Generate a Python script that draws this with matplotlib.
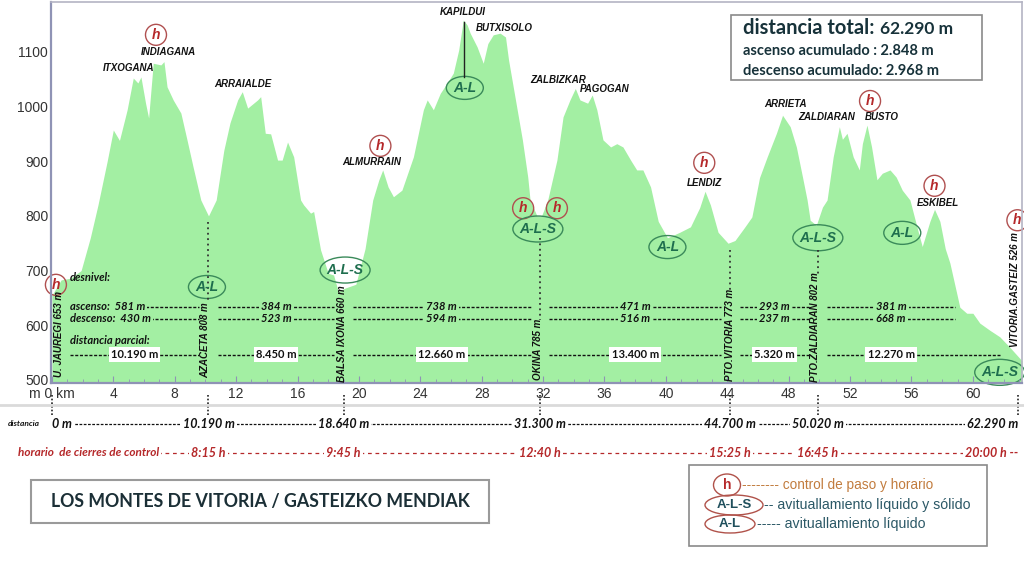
import numpy as np
import matplotlib.pyplot as plt
import matplotlib.transforms as mtransforms
from matplotlib.patches import Ellipse, Rectangle
from matplotlib.ticker import MultipleLocator, FixedLocator

# elevation profile (km, m)
profile_km = [0, 0.6, 1.2, 1.9, 2.5, 3.0, 3.3, 3.6, 4.0, 4.4,
              4.9, 5.3, 5.6, 5.8, 6.1, 6.3, 6.6, 7.1, 7.3, 7.5,
              7.9, 8.4, 8.8, 9.2, 9.7, 10.2, 10.7, 11.2, 11.6, 12.1,
              12.4, 12.75, 13.4, 13.6, 13.9, 14.25, 14.7, 15.0, 15.35, 15.75,
              16.2, 16.4, 16.85, 17.05, 17.5, 18.0, 18.35, 18.65, 19.1, 19.8,
              20.4, 20.9, 21.3, 21.55, 21.9, 22.25, 22.8, 23.55, 24.2, 24.45,
              24.85, 25.3, 25.75, 26.15, 26.5, 26.8, 27.05, 27.25, 27.7, 28.1,
              28.4, 28.75, 29.2, 29.55, 29.75, 30.2, 30.65, 31.0, 31.15, 31.6,
              31.9, 32.3, 32.9, 33.3, 33.75, 34.1, 34.4, 34.9, 35.2, 35.5,
              35.9, 36.4, 36.8, 37.2, 37.7, 38.1, 38.5, 39.0, 39.5, 40.1,
              40.9, 41.6, 42.2, 42.55, 42.9, 43.4, 44.05, 44.5, 45.15, 45.6,
              46.1, 46.6, 47.2, 47.6, 48.1, 48.5, 48.9, 49.2, 49.4, 49.8,
              50.2, 50.5, 50.9, 51.3, 51.5, 51.8, 52.2, 52.6, 52.8, 53.1,
              53.4, 53.75, 54.1, 54.6, 55.0, 55.4, 55.9, 56.4, 56.7, 57.2,
              57.5, 57.85, 58.2, 58.5, 59.15, 59.6, 60.0, 60.45, 61.1, 61.75,
              62.4, 63.2]
profile_elev = [655, 683, 686, 700, 760, 820, 860, 900, 957, 938,
                994, 1052, 1043, 1054, 1006, 979, 1079, 1076, 1082, 1036,
                1012, 988, 939, 889, 829, 800, 829, 920, 970, 1012,
                1027, 997, 1012, 1018, 951, 950, 902, 902, 935, 908,
                829, 820, 805, 808, 738, 695, 692, 662, 668, 675,
                740, 829, 866, 884, 853, 835, 847, 908, 994, 1012,
                994, 1024, 1043, 1061, 1103, 1158, 1149, 1134, 1109, 1079,
                1115, 1131, 1134, 1127, 1085, 1012, 939, 871, 829, 800,
                800, 829, 902, 981, 1012, 1033, 1012, 1006, 1021, 994,
                939, 926, 932, 926, 902, 884, 884, 853, 790, 760,
                770, 780, 815, 845, 820, 770, 750, 755, 780, 798,
                870, 908, 951, 984, 963, 926, 871, 829, 792, 783,
                816, 829, 908, 963, 940, 951, 908, 884, 932, 966,
                926, 866, 878, 884, 871, 847, 829, 775, 744, 790,
                812, 790, 740, 714, 633, 622, 622, 604, 591, 579,
                560, 535]

# control points / stops
stop_km = [0, 10.2, 19.0, 31.8, 44.2, 49.9, 62.95]
stop_names = ["U. JAUREGI 653 m", "AZACETA 808 m", "BALSA IXONA 660 m", "OKINA 785 m",
              "PTO.VITORIA 773 m", "PTO.ZALDIARAN 802 m", "VITORIA.GASTEIZ 526 m"]
stop_text_km = [0.45, 9.97, 18.9, 31.66, 44.17, 49.7, 62.74]
stop_text_elev = [506, 503, 496, 500, 498, 496, 561]
stop_dist = ["0 m", "10.190 m", "18.640 m", "31.300 m", "44.700 m", "50.020 m", "62.290 m"]
stop_time = ["", "8:15 h", "9:45 h", "12:40 h", "15:25 h", "16:45 h", "20:00 h"]

seg_ascent = [581, 384, 738, 471, 293, 381]
seg_descent = [430, 523, 594, 516, 237, 668]
seg_dist = ["10.190 m", "8.450 m", "12.660 m", "13.400 m", "5.320 m", "12.270 m"]

peak_names = ["ITXOGANA", "INDIAGANA", "ARRAIALDE", "ALMURRAIN", "KAPILDUI", "BUTXISOLO",
              "ZALBIZKAR", "PAGOGAN", "LENDIZ", "ARRIETA", "ZALDIARAN", "BUSTO", "ESKIBEL"]
peak_km = [5.02, 7.56, 12.44, 20.85, 26.78, 29.5, 32.96, 36.0, 42.54, 47.8, 50.5, 54.1, 57.7]
peak_elev = [1070, 1100, 1041, 899, 1173, 1143, 1048, 1032, 860, 1005, 981, 981, 824]

h_km = [0.26, 6.78, 21.4, 30.7, 32.9, 42.5, 53.3, 57.5, 62.9]
h_elev = [674, 1131, 928, 814, 814, 897, 1010, 855, 792]
al_km = [10.1, 26.9, 40.1, 55.4]
al_elev = [670, 1034, 743, 769]
als_km = [19.1, 31.66, 49.9, 61.75]
als_elev = [701, 776, 760, 514]

FILL = "#a3efa3"
AXC = "#8f93b5"
RED = "#b5282a"
GREEN = "#1e6e4e"
DARK = "#17323a"
SANS = ["Liberation Sans", "DejaVu Sans"]
CAL = ["Lato", "DejaVu Sans"]

W, H = 1024, 574
KM_PX, M_PX = 15.35, 0.547


def fx(x):
    return x / W


def fy(y):
    return 1 - y / H


fig = plt.figure(figsize=(10.24, 5.74), dpi=100)
ax = fig.add_axes([fx(51), fy(383), (1022 - 51) / W, (383 - 2) / H])
ax.fill_between(profile_km, profile_elev, 494.5, color=FILL, lw=0)
ax.set_xlim(-0.06, 63.2)
ax.set_ylim(494.5, 1191)

ax.xaxis.set_major_locator(FixedLocator(np.arange(0, 61, 4)))
ax.xaxis.set_minor_locator(MultipleLocator(1))
ax.set_xticklabels(["m 0 km"] + [str(v) for v in range(4, 61, 4)])
ax.set_yticks(range(500, 1101, 100))
ax.tick_params(axis="x", which="both", direction="in", colors=AXC, labelcolor="#333", pad=3)
ax.tick_params(axis="x", which="major", length=5)
ax.tick_params(axis="x", which="minor", length=3)
ax.tick_params(axis="y", length=0, labelcolor="#333", pad=2)
for lab in ax.get_xticklabels() + ax.get_yticklabels():
    lab.set_fontfamily(SANS)
    lab.set_fontsize(10)
for s in ["left", "bottom"]:
    ax.spines[s].set_color(AXC)
    ax.spines[s].set_linewidth(1.6)
for s in ["top", "right"]:
    ax.spines[s].set_color("#b4b4c4")
    ax.spines[s].set_linewidth(1.2)


def ring(x, y, wpx, hpx, ec, transform=None):
    if transform is None:
        e = Ellipse((x, y), wpx / KM_PX, hpx / M_PX, fill=False, ec=ec, lw=1.0, clip_on=False)
        ax.add_patch(e)
    else:
        e = Ellipse((x, y), wpx / W, hpx / H, fill=False, ec=ec, lw=1.0, transform=transform)
        fig.add_artist(e)


# peak names
for name, x, y in zip(peak_names, peak_km, peak_elev):
    ax.text(x, y, name, ha="center", va="center", fontsize=7, fontweight="bold",
            fontstyle="italic", family=SANS, color="#111")

# control marks
for x, y in zip(h_km, h_elev):
    ring(x, y, 21, 21, "#b05050")
    ax.text(x, y, "h", ha="center", va="center", fontsize=10, fontweight="bold",
            fontstyle="italic", family=SANS, color=RED, clip_on=False)
for x, y in zip(al_km, al_elev):
    ring(x, y, 37, 23, "#3a8a5a")
    ax.text(x, y, "A-L", ha="center", va="center", fontsize=10, fontweight="bold",
            fontstyle="italic", family=SANS, color=GREEN)
for x, y in zip(als_km, als_elev):
    ring(x, y, 50, 26, "#3a8a5a")
    ax.text(x, y, "A-L-S", ha="center", va="center", fontsize=10, fontweight="bold",
            fontstyle="italic", family=SANS, color=GREEN, clip_on=False)

# kapildui connector
ax.plot([26.85, 26.85], [1155, 1054], color="#222", lw=1)

# stop names (vertical) and dotted lines
for name, x, y in zip(stop_names, stop_text_km, stop_text_elev):
    ax.text(x, y, name, rotation=90, ha="center", va="bottom", fontsize=7,
            fontweight="bold", fontstyle="italic", family=SANS, color="#111")
for i, top, bot in [(1, 789, 640), (3, 760, 610), (4, 738, 660), (5, 738, 689)]:
    ax.plot([stop_km[i], stop_km[i]], [top, bot], color="#333", lw=1.3, ls=(0, (1, 2)))

# desnivel / distancia parcial rows
ROW_ASC, ROW_DESC, ROW_DIST = 634, 612, 546
DASH = (0, (2.2, 1.2))
txt = dict(fontsize=8, fontweight="bold", fontstyle="italic", family=CAL, color="#111")
ax.text(1.15, 687, "desnivel:", ha="left", va="center", **txt)
ax.text(1.15, 572, "distancia parcial:", ha="left", va="center", **txt)
for i in range(6):
    a = 1.15 if i == 0 else stop_km[i] + 0.6
    b = stop_km[i + 1] - 0.6
    b_asc = min(b, 58.85)
    b_dist = min(b, 61.75)
    mid = (a + b_asc) / 2
    for row, val in [(ROW_ASC, seg_ascent[i]), (ROW_DESC, seg_descent[i])]:
        ax.plot([a, b_asc], [row, row], color="#111", lw=1.0, ls=DASH)
        if i == 0:
            lab = ("ascenso:  " if row == ROW_ASC else "descenso:  ") + f"{val} m"
            ax.text(a, row, lab, ha="left", va="center",
                    bbox=dict(fc=FILL, ec="none", pad=1.5), **txt)
        else:
            ax.text(mid, row, f"{val} m", ha="center", va="center",
                    bbox=dict(fc=FILL, ec="none", pad=1.5), **txt)
    ax.plot([a, b_dist], [ROW_DIST, ROW_DIST], color="#111", lw=1.0, ls=DASH)
    ax.text(mid, ROW_DIST, seg_dist[i], ha="center", va="center",
            fontsize=8, fontweight="bold", family=CAL, color="#111",
            bbox=dict(fc="white", ec="none", pad=1.5))

# below the axis
blend = mtransforms.blended_transform_factory(ax.transData, fig.transFigure)
fig.add_artist(plt.Line2D([0, 1], [fy(405), fy(405)], color="#dadada", lw=2))
for x in stop_km:
    ax.plot([x, x], [fy(395), fy(421)], transform=blend, clip_on=False,
            color="#222", lw=1.2, ls=(0, (1, 1.2)))

Y_D, Y_T = fy(424), fy(453)
ax.plot([0.65, 59.8], [Y_D, Y_D], transform=blend, clip_on=False, color="#111", lw=0.9, ls=DASH)
ax.plot([6.4, 60.5], [Y_T, Y_T], transform=blend, clip_on=False, color=RED, lw=0.9, ls=(0, (3, 3)))
fig.text(fx(8), Y_D, "distancia", ha="left", va="center", fontsize=6, fontweight="bold",
         fontstyle="italic", family=CAL, color="#111")
fig.text(fx(18), Y_T, "horario  de cierres de control", ha="left", va="center", fontsize=8.5,
         fontweight="bold", fontstyle="italic", family=CAL, color=RED,
         bbox=dict(fc="white", ec="none", pad=1))
for i, (x, d, t) in enumerate(zip(stop_km, stop_dist, stop_time)):
    ha = "left" if i == 0 else ("right" if i == len(stop_km) - 1 else "center")
    ax.text(x, Y_D, d, transform=blend, ha=ha, va="center", fontsize=9, fontweight="bold",
            fontstyle="italic", family=CAL, color="#111", bbox=dict(fc="white", ec="none", pad=1.5))
    if t:
        if i == len(stop_km) - 1:
            t = t + " --"
        ax.text(x, Y_T, t, transform=blend, ha=ha, va="center", fontsize=9, fontweight="bold",
                fontstyle="italic", family=CAL, color=RED, bbox=dict(fc="white", ec="none", pad=1.5))

# info box
fig.add_artist(Rectangle((fx(731), fy(80)), (982 - 731) / W, (80 - 15) / H, transform=fig.transFigure,
                         fill=False, ec="#8a8a8a", lw=1.2))
fig.text(fx(743), fy(34), "distancia total:", ha="left", va="baseline", fontsize=14.5,
         fontweight="bold", family=CAL, color=DARK)
fig.text(fx(880), fy(34), "62.290 m", ha="left", va="baseline", fontsize=12.5,
         fontweight="bold", family=CAL, color=DARK)
fig.text(fx(743), fy(55), "ascenso acumulado : 2.848 m", ha="left", va="baseline", fontsize=10.5,
         fontweight="bold", family=CAL, color=DARK)
fig.text(fx(743), fy(75), "descenso acumulado: 2.968 m", ha="left", va="baseline", fontsize=10.5,
         fontweight="bold", family=CAL, color=DARK)

# title box
fig.add_artist(Rectangle((fx(31), fy(523)), (489 - 31) / W, (523 - 480) / H, transform=fig.transFigure,
                         fill=False, ec="#9a9a9a", lw=1.5))
fig.text(fx(260), fy(502), "LOS MONTES DE VITORIA / GASTEIZKO MENDIAK", ha="center", va="center",
         fontsize=12.8, fontweight="bold", family=CAL, color="#1b2f36")

# legend box
fig.add_artist(Rectangle((fx(689), fy(546)), (987 - 689) / W, (546 - 465) / H, transform=fig.transFigure,
                         fill=False, ec="#8a8a8a", lw=1.2))
ring(fx(727), fy(485), 27, 22, "#b0524a", transform=fig.transFigure)
fig.text(fx(727), fy(485), "h", ha="center", va="center", fontsize=10, fontweight="bold",
         family=SANS, color=RED)
fig.text(fx(742), fy(485), "-------- control de paso y horario", ha="left", va="center",
         fontsize=9.8, family=SANS, color="#c27c3e")
ring(fx(734), fy(505), 58, 20, "#b0524a", transform=fig.transFigure)
fig.text(fx(734), fy(505), "A-L-S", ha="center", va="center", fontsize=9.5, fontweight="bold",
         family=SANS, color="#1f4f5c")
fig.text(fx(764), fy(505), "-- avituallamiento líquido y sólido", ha="left", va="center",
         fontsize=10.2, family=SANS, color="#2b5866")
ring(fx(730), fy(524), 50, 18, "#b0524a", transform=fig.transFigure)
fig.text(fx(730), fy(524), "A-L", ha="center", va="center", fontsize=9.5, fontweight="bold",
         family=SANS, color="#1f4f5c")
fig.text(fx(757), fy(524), "----- avituallamiento líquido", ha="left", va="center",
         fontsize=10.2, family=SANS, color="#2b5866")

fig.savefig("out.png", dpi=100)
